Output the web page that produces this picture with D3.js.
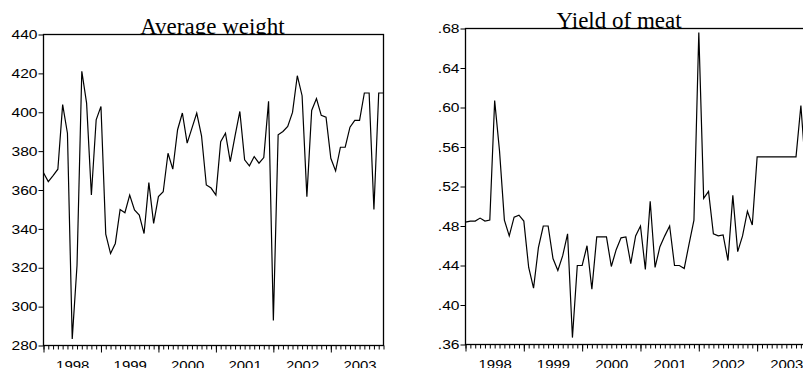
<!DOCTYPE html>
<html>
<head>
<meta charset="utf-8">
<script src="https://cdn.jsdelivr.net/npm/d3@7"></script>
<style>
  body { margin: 0; background: #fff; }
  svg { display: block; }
  .tick text { font-family: "Liberation Sans", Arial, sans-serif; font-size: 13px; fill: #000; }
  .tick line { stroke: #000; }
  .title { font-family: "Liberation Serif", "Times New Roman", serif; font-size: 23px; fill: #000; }
</style>
</head>
<body>
<svg id="chart"></svg>
<script>
var svgWidth = 803;
var svgHeight = 368;

// monthly observations, Jan 1998 - Dec 2003
var years = [1998, 1999, 2000, 2001, 2002, 2003];
var weightTicks = [280, 300, 320, 340, 360, 380, 400, 420, 440];
var yieldTicks = [0.36, 0.40, 0.44, 0.48, 0.52, 0.56, 0.60, 0.64, 0.68];

var weight = [368.9, 364.3, 367.4, 370.7, 403.9, 389.2, 283.4, 321.3, 421.1, 404.7, 357.4, 396.1,
  403.0, 337.3, 327.3, 332.5, 350.0, 348.3, 357.4, 349.7, 347.1, 337.6, 363.8, 342.8,
  356.6, 359.1, 378.9, 370.7, 391.0, 399.6, 384.1, 391.8, 399.6, 387.9, 362.6, 361.0,
  357.4, 384.9, 389.2, 374.6, 387.9, 400.4, 375.5, 372.4, 377.2, 373.8, 376.7, 405.6,
  292.9, 388.4, 390.1, 392.7, 399.9, 418.8, 408.5, 356.6, 400.9, 407.0, 398.4, 397.5,
  376.3, 369.8, 382.0, 382.0, 392.3, 395.8, 395.8, 409.9, 409.9, 350.0, 409.9, 409.9];

var meatYield = [0.484, 0.485, 0.485, 0.488, 0.485, 0.486, 0.607, 0.556, 0.486, 0.470, 0.489, 0.491,
  0.485, 0.438, 0.417, 0.458, 0.480, 0.480, 0.447, 0.435, 0.450, 0.472, 0.367, 0.440,
  0.440, 0.460, 0.416, 0.469, 0.469, 0.469, 0.439, 0.456, 0.468, 0.469, 0.442, 0.470,
  0.480, 0.436, 0.505, 0.438, 0.459, 0.470, 0.480, 0.440, 0.440, 0.437, 0.462, 0.486,
  0.676, 0.508, 0.515, 0.472, 0.470, 0.471, 0.445, 0.511, 0.454, 0.470, 0.495, 0.481,
  0.550, 0.550, 0.550, 0.550, 0.550, 0.550, 0.550, 0.550, 0.550, 0.602, 0.535, 0.550];

var svg = d3.select("#chart")
  .attr("width", svgWidth)
  .attr("height", svgHeight);

svg.append("rect")
  .attr("width", svgWidth)
  .attr("height", svgHeight)
  .attr("fill", "#fff");

function drawPanel(p) {
  var months = d3.range(p.values.length);

  var xScale = d3.scaleLinear()
    .domain([0, p.values.length - 1])
    .range([p.left, p.right]);

  var yScale = d3.scaleLinear()
    .domain(d3.extent(p.ticks))
    .range([p.bottom, p.top]);

  // title goes first, the white plot area hides its descenders
  svg.append("text")
    .attr("class", "title")
    .attr("x", p.titleX)
    .attr("y", p.top - 1)
    .attr("text-anchor", "middle")
    .text(p.title);

  svg.append("rect")
    .attr("x", p.left)
    .attr("y", p.top)
    .attr("width", p.right - p.left)
    .attr("height", p.bottom - p.top)
    .attr("fill", "#fff");

  var line = d3.line()
    .x((d, i) => xScale(i))
    .y(d => yScale(d));

  svg.append("path")
    .datum(p.values)
    .attr("d", line)
    .attr("fill", "none")
    .attr("stroke", "#000")
    .attr("stroke-width", 1.2)
    .attr("stroke-linejoin", "miter");

  // monthly minor ticks
  svg.append("g")
    .attr("transform", `translate(0, ${p.bottom})`)
    .call(d3.axisBottom(xScale).tickValues(months).tickSize(4).tickSizeOuter(0).tickFormat(""))
    .call(g => g.select(".domain").remove());

  // january ticks
  svg.append("g")
    .attr("transform", `translate(0, ${p.bottom})`)
    .call(d3.axisBottom(xScale).tickValues(months.filter(m => m % 12 === 0)).tickSize(7).tickSizeOuter(0).tickFormat(""))
    .call(g => g.select(".domain").remove());

  // year labels centred on each year
  svg.append("g")
    .attr("transform", `translate(0, ${p.bottom})`)
    .call(d3.axisBottom(xScale)
      .tickValues(years.map((yr, i) => i * 12 + 6))
      .tickSize(0)
      .tickPadding(15)
      .tickFormat(d => years[(d - 6) / 12]))
    .call(g => g.select(".domain").remove())
    .selectAll("text")
    .attr("transform", "scale(1.15,1)");

  svg.append("g")
    .attr("transform", `translate(${p.left}, 0)`)
    .call(d3.axisLeft(yScale).tickValues(p.ticks).tickSize(5).tickPadding(0).tickSizeOuter(0).tickFormat(p.format))
    .call(g => g.select(".domain").remove())
    .selectAll("text")
    .attr("transform", "scale(1.2,1)");

  svg.append("rect")
    .attr("x", p.left)
    .attr("y", p.top)
    .attr("width", p.right - p.left)
    .attr("height", p.bottom - p.top)
    .attr("fill", "none")
    .attr("stroke", "#000")
    .attr("stroke-width", 1.3);
}

drawPanel({
  values: weight,
  ticks: weightTicks,
  format: d3.format("d"),
  title: "Average weight",
  titleX: 212.5,
  left: 43.5,
  right: 383.5,
  top: 34.5,
  bottom: 345.5
});

drawPanel({
  values: meatYield,
  ticks: yieldTicks,
  format: d => d3.format(".2f")(d).replace(/^0/, ""),
  title: "Yield of meat",
  titleX: 619,
  left: 465.5,
  right: 810.6,
  top: 28.5,
  bottom: 344.5
});
</script>
</body>
</html>
